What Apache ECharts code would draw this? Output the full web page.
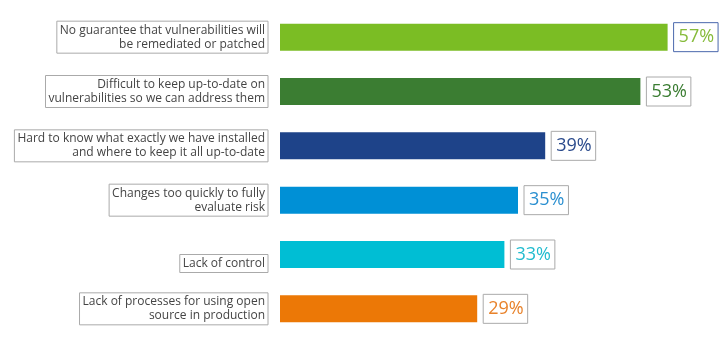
<!DOCTYPE html>
<html>
<head>
<meta charset="utf-8">
<script src="https://cdn.jsdelivr.net/npm/echarts@6/dist/echarts.min.js"></script>
<style>html,body{margin:0;padding:0;background:#fff}#c{width:722px;height:346px}</style>
</head>
<body>
<div id="c"></div>
<script>
var categories = [
  "No guarantee that vulnerabilities will\nbe remediated or patched",
  "Difficult to keep up-to-date on\nvulnerabilities so we can address them",
  "Hard to know what exactly we have installed\nand where to keep it all up-to-date",
  "Changes too quickly to fully\nevaluate risk",
  "Lack of control",
  "Lack of processes for using open\nsource in production"
];
var values = [57, 53, 39, 35, 33, 29];

var barColors = ["#7bbd24", "#3b7d32", "#1e4389", "#0090d6", "#00bed4", "#ec7806"];
var labelColors = ["#86bb3a", "#3b7d32", "#2a4a8c", "#2a8fd0", "#22bccf", "#e8822a"];
var labelBorders = ["#4a68ad", "#aaaaaa", "#aaaaaa", "#aaaaaa", "#aaaaaa", "#aaaaaa"];
var labelVAlign = ["middle", "middle", "middle", "middle", "top", "middle"];

var chart = echarts.init(document.getElementById('c'), null, {renderer: 'canvas'});
chart.setOption({
  animation: false,
  grid: {left: 280, right: 34, top: 10, bottom: 10, containLabel: false},
  xAxis: {
    type: 'value', min: 0, max: 60, show: false
  },
  yAxis: {
    type: 'category', inverse: true,
    data: categories.map(function (c, i) {
      return {value: c, textStyle: {verticalAlign: labelVAlign[i]}};
    }),
    axisLine: {show: false}, axisTick: {show: false},
    axisLabel: {
      align: 'right', margin: 12,
      fontFamily: 'Open Sans', fontSize: 12, color: '#444',
      lineHeight: 14,
      borderColor: '#aaaaaa', borderWidth: 1, padding: [2, 3, 2, 3]
    }
  },
  series: [{
    type: 'bar', barWidth: 27,
    data: values.map(function (v, i) {
      return {
        value: v,
        itemStyle: {color: barColors[i]},
        label: {color: labelColors[i], borderColor: labelBorders[i]}
      };
    }),
    label: {
      show: true, position: 'right', distance: 6,
      formatter: '{c}%', fontFamily: 'Open Sans', fontSize: 18,
      lineHeight: 18,
      borderWidth: 1, padding: [6, 4, 5, 5]
    }
  }]
});
</script>
</body>
</html>
